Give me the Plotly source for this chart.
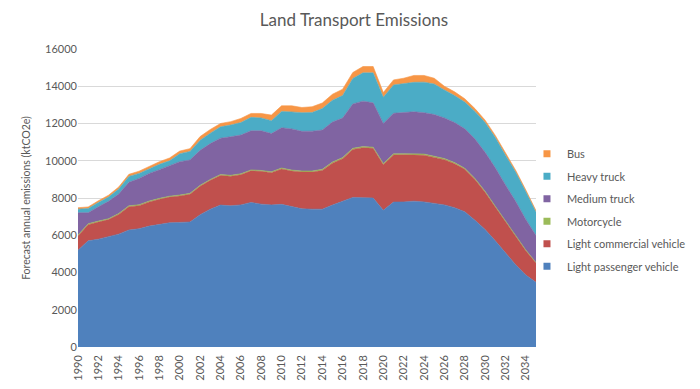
import plotly.graph_objects as go

years = list(range(1990, 2036))

light_passenger = [5200, 5700, 5790, 5920, 6060, 6280, 6350, 6490, 6600, 6670,
                   6690, 6710, 7100, 7400, 7620, 7580, 7630, 7760, 7670, 7630,
                   7660, 7540, 7420, 7400, 7400, 7620, 7830, 8030, 8020, 8000,
                   7340, 7780, 7790, 7830, 7790, 7730, 7630, 7480, 7260, 6810,
                   6310, 5700, 5040, 4420, 3860, 3470]
light_commercial = [760, 870, 920, 920, 1060, 1250, 1240, 1300, 1330, 1380,
                    1420, 1490, 1530, 1550, 1590, 1590, 1620, 1700, 1760, 1730,
                    1900, 1910, 1980, 1990, 2080, 2250, 2280, 2580, 2680, 2670,
                    2450, 2530, 2530, 2490, 2510, 2450, 2430, 2360, 2280, 2190,
                    2000, 1820, 1690, 1520, 1310, 1040]
motorcycle = [50, 50, 50, 50, 50, 50, 50, 50, 50, 50,
              50, 50, 50, 50, 50, 50, 50, 50, 50, 50,
              50, 50, 50, 60, 60, 60, 60, 60, 60, 60,
              60, 60, 60, 60, 60, 60, 60, 60, 60, 50,
              50, 40, 40, 40, 40, 30]
medium_truck = [1200, 590, 770, 930, 1040, 1260, 1410, 1480, 1540, 1650,
                1790, 1790, 1880, 1920, 1950, 2070, 2080, 2100, 2130, 2050,
                2160, 2210, 2130, 2140, 2110, 2150, 2120, 2380, 2440, 2380,
                2150, 2180, 2220, 2250, 2220, 2240, 2180, 2150, 2120, 2120,
                2090, 2060, 1930, 1840, 1640, 1440]
heavy_truck = [190, 230, 230, 230, 270, 320, 270, 250, 290, 250,
               430, 460, 540, 560, 610, 630, 670, 720, 690, 690,
               880, 910, 1000, 1000, 1150, 1170, 1210, 1370, 1520, 1610,
               1410, 1520, 1560, 1580, 1640, 1640, 1500, 1450, 1430, 1480,
               1600, 1630, 1600, 1580, 1500, 1270]
bus = [80, 80, 90, 100, 110, 110, 120, 130, 140, 150,
       140, 150, 200, 200, 180, 180, 220, 210, 240, 300,
       300, 330, 280, 310, 300, 320, 340, 320, 340, 340,
       250, 270, 270, 370, 360, 310, 200, 200, 180, 150,
       130, 110, 100, 90, 80, 70]

series = [
    ("Light passenger vehicle", light_passenger, "#4F81BD"),
    ("Light commercial vehicle", light_commercial, "#C0504D"),
    ("Motorcycle", motorcycle, "#9BBB59"),
    ("Medium truck", medium_truck, "#8064A2"),
    ("Heavy truck", heavy_truck, "#4BACC6"),
    ("Bus", bus, "#F79646"),
]

fig = go.Figure()
for name, vals, col in series:
    fig.add_trace(go.Scatter(
        x=years, y=vals, name=name, stackgroup="one", mode="lines",
        line=dict(width=0.6, color=col), fillcolor=col, showlegend=False,
    ))

# legend entries (small squares), Bus first as in the reference
for rank, (name, vals, col) in enumerate(reversed(series)):
    fig.add_trace(go.Scatter(
        x=[None], y=[None], name=name, mode="markers",
        marker=dict(symbol="square", size=7, color=col),
        legendgroup=name, legendrank=rank + 1, showlegend=True,
    ))

grey = "#595959"
# page body has an 8px default margin, so the figure is 8px smaller
fig.update_layout(
    width=692, height=381,
    margin=dict(l=70, r=164, t=41, b=42, autoexpand=False),
    paper_bgcolor="white", plot_bgcolor="white",
    font=dict(family="Lato, Open Sans, sans-serif", color=grey, size=11),
    title=dict(text="Land Transport Emissions", x=0.5, xanchor="center",
               y=0.968, yanchor="middle", font=dict(size=17, color=grey)),
    showlegend=True,
    legend=dict(x=0.9803, xanchor="left", y=0.697, yanchor="top",
                traceorder="grouped", tracegroupgap=3.5,
                font=dict(size=11, color=grey), bgcolor="rgba(0,0,0,0)"),
    xaxis=dict(range=[1990, 2035], tickmode="array",
               tickvals=list(range(1990, 2035, 2)),
               ticktext=[str(y) for y in range(1990, 2035, 2)],
               tickangle=-90, showgrid=False, zeroline=False, automargin=False,
               showline=False, ticks="", ticklabelstandoff=5,
               tickfont=dict(size=11, color=grey)),
    yaxis=dict(range=[0, 16000], dtick=2000, showgrid=True,
               gridcolor="#D9D9D9", gridwidth=1, zeroline=False,
               showline=False, ticks="", tickformat="d", automargin=False,
               tickfont=dict(size=11, color=grey),
               title=dict(text="Forecast annual emissions (ktCO2e)",
                          font=dict(size=10.5, color=grey), standoff=12)),
)

fig.write_html("out.html")
